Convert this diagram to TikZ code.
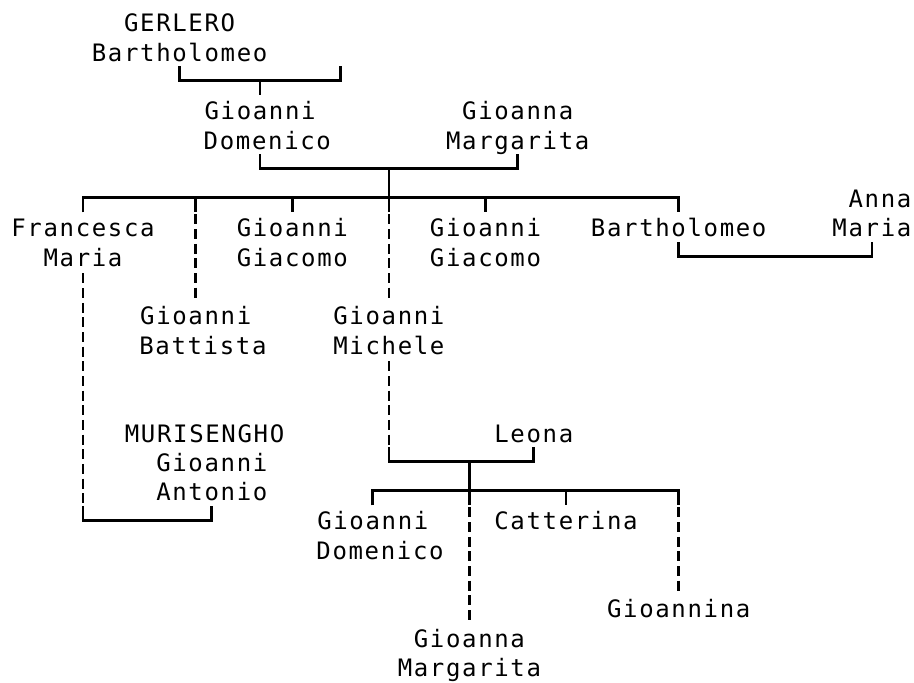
\documentclass[tikz,border=0pt]{standalone}
\usepackage{fontspec}
\newfontfamily\treefont{DejaVu Sans Mono}[LetterSpace=6.9]
\usepackage{tikz}

\begin{document}
\begin{tikzpicture}[x=16.1pt,y=-29.3pt,
  person/.style={font=\treefont\fontsize{24}{29.3}\selectfont, inner sep=0pt,
    align=center, anchor=north, text depth=5pt},
  one/.style={person, text height=24.3pt},
  two/.style={person, text height=53.6pt},
  three/.style={person, text height=82.9pt},
  link/.style={line width=2.7pt},
  maybe/.style={line width=2.7pt, dash pattern=on 10pt off 4.65pt, dash phase=12.65pt}]
\useasboundingbox (-0.155,-0.751) rectangle (56.615,22.526);

\node[two] (gerlero) at (11,-0.5) {GERLERO\\Bartholomeo};
\coordinate (wife1) at (21,1.5);
\coordinate (m1) at (16,2);
\node[two] (gdom) at (16,2.5) {Gioanni\\\hphantom{D}Domenico};
\node[two] (gmarg) at (32,2.5) {Gioanna\\Margarita};
\coordinate (m2) at (24,5);
\coordinate (kids1) at (24,6);
\node[two] (fmaria) at (5,6.5) {Francesca\\Maria};
\node[two] (gbatt) at (12,9.5) {Gioanni\\\hphantom{B}Battista};
\node[two] (ggia1) at (18,6.5) {Gioanni\\Giacomo};
\node[two] (gmich) at (24,9.5) {Gioanni\\Michele};
\node[two] (ggia2) at (30,6.5) {Gioanni\\Giacomo};
\node[one] (bart) at (42,6.5) {Bartholomeo};
\node[two, align=right] (amaria) at (54,5.5) {Anna\\Maria};
\node[three] (muris) at (13,13.5) {MURISENGHO\hphantom{O}\\Gioanni\\Antonio};
\node[one] (leona) at (33,13.5) {Leona};
\coordinate (m3) at (29,15);
\coordinate (kids2) at (29,16);
\node[two] (gdom2) at (23,16.5) {Gioanni\\\hphantom{D}Domenico};
\node[one] (catt) at (35,16.5) {Catterina};
\node[one] (gnina) at (42,19.5) {Gioannina};
\node[two] (gmarg2) at (29,20.5) {Gioanna\\Margarita};

% parents
\draw[link] (gerlero.south) |- (m1) -| (wife1);
\draw[link] (m1) -- (gdom.north);
\draw[link] (gdom.south) |- (m2) -| (gmarg.south);
\draw[link] (m2) -- (kids1);
% children
\draw[link] (fmaria.north) -- (fmaria.north |- kids1) -- (bart.north |- kids1) -- (bart.north);
\draw[link] (ggia1.north |- kids1) -- (ggia1.north);
\draw[link] (ggia2.north |- kids1) -- (ggia2.north);
\foreach \n in {gbatt,gmich} {
  \draw[link] (\n.north |- kids1) -- ++(0,0.5) coordinate (top);
  \draw[maybe] (top) -- (\n.north);
}
\draw[link] (bart.south) -- ++(0,0.5) -| (amaria.south);
% Francesca Maria and Murisengho
\draw[maybe] (fmaria.south) -- (fmaria.south |- muris.south);
\draw[link] (fmaria.south |- muris.south) -- ++(0,0.5) -| (muris.south);
% Gioanni Michele and Leona
\draw[maybe] (gmich.south) -- (gmich.south |- leona.south);
\draw[link] (gmich.south |- leona.south) |- (m3) -| (leona.south);
\draw[link] (m3) -- (kids2);
\draw[link] (gdom2.north) -- (gdom2.north |- kids2) -- (gnina.north |- kids2) -- ++(0,0.5) coordinate (gn);
\draw[maybe] (gn) -- (gnina.north);
\draw[link] (catt.north |- kids2) -- (catt.north);
\draw[link] (kids2) -- ++(0,0.5) coordinate (gm);
\draw[maybe] (gm) -- (gmarg2.north);
\end{tikzpicture}
\end{document}
